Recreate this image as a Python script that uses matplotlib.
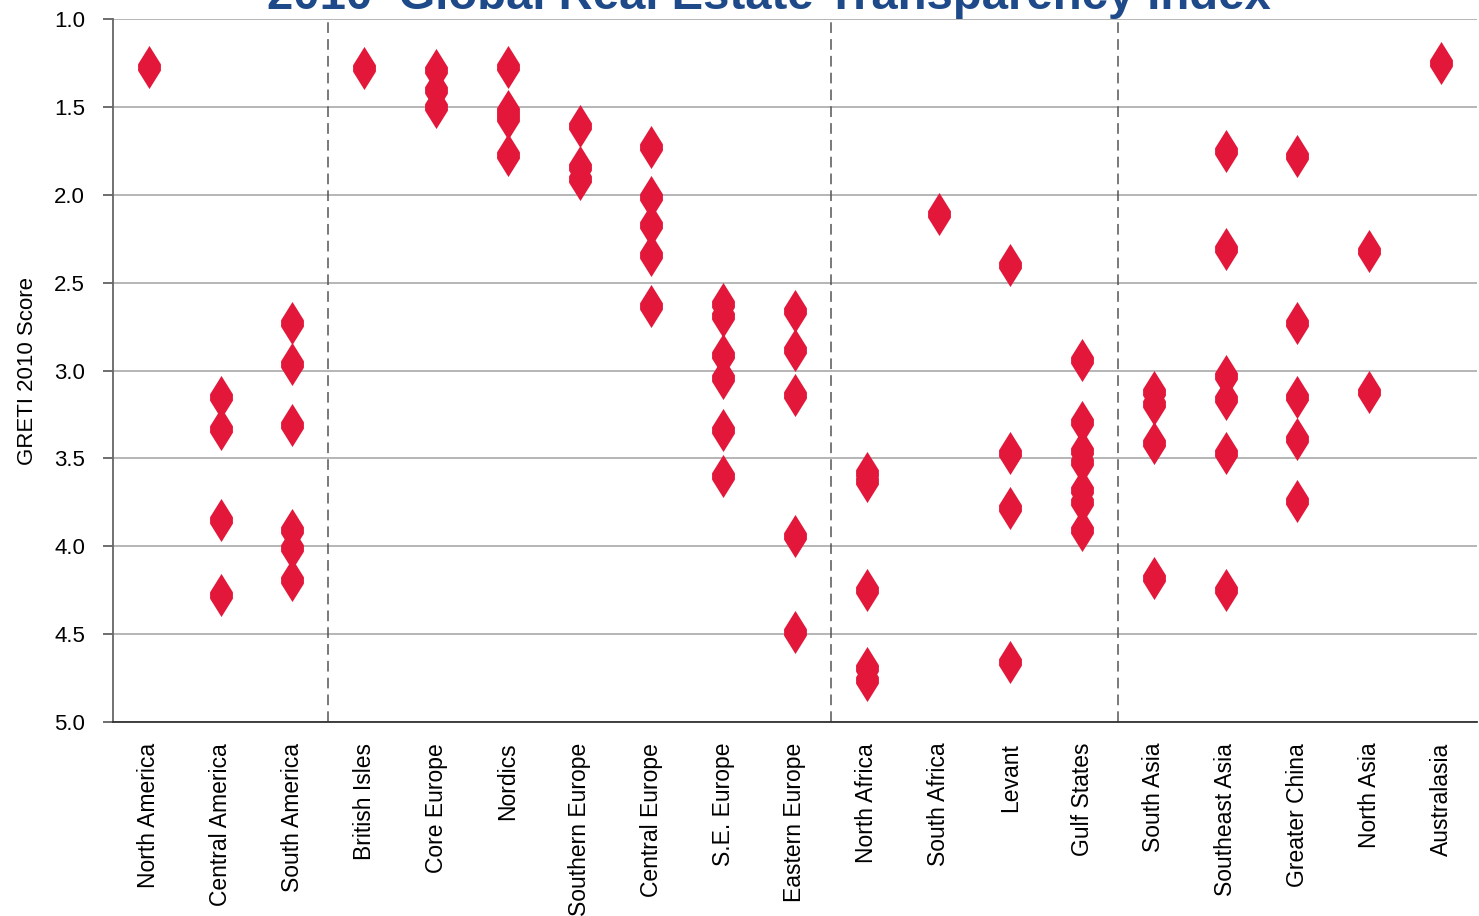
import numpy as np
import matplotlib
matplotlib.use("Agg")
import matplotlib.pyplot as plt
from matplotlib.path import Path

# regiones (en orden del eje x)
regions = [
  "North America", "Central America", "South America",
  "British Isles", "Core Europe", "Nordics", "Southern Europe",
  "Central Europe", "S.E. Europe", "Eastern Europe",
  "North Africa", "South Africa", "Levant", "Gulf States",
  "South Asia", "Southeast Asia", "Greater China", "North Asia", "Australasia",
]

# cantidad de regiones por bloque (Americas, Europa, MENA, Asia Pacifico)
group_sizes = [3, 7, 4, 5]

# puntajes por pais de cada region
scores = [
  [1.27],
  [3.15, 3.33, 3.85, 4.28],
  [2.73, 2.96, 3.31, 3.91, 4.01, 4.19],
  [1.28],
  [1.29, 1.40, 1.50],
  [1.27, 1.52, 1.56, 1.77],
  [1.61, 1.84, 1.91],
  [1.73, 2.01, 2.17, 2.34, 2.63],
  [2.62, 2.69, 2.91, 3.04, 3.34, 3.60],
  [2.66, 2.88, 3.14, 3.94, 4.49],
  [3.58, 3.63, 4.25, 4.69, 4.76],
  [2.11],
  [2.40, 3.47, 3.78, 4.66],
  [2.94, 3.29, 3.46, 3.52, 3.68, 3.75, 3.91],
  [3.12, 3.19, 3.41, 4.18],
  [1.75, 2.31, 3.03, 3.16, 3.47, 4.25],
  [1.78, 2.73, 3.15, 3.39, 3.74],
  [2.32, 3.12],
  [1.25],
]

y_ticks = [1.0, 1.5, 2.0, 2.5, 3.0, 3.5, 4.0, 4.5, 5.0]

red = "#E2173A"
title_blue = "#1F4A8A"
plt.rcParams["font.family"] = ["Liberation Sans", "DejaVu Sans"]

# marcador tipo rombo alargado
marker = Path([(0, 1), (0.53, 0.15), (0.53, -0.15), (0, -1),
               (-0.53, -0.15), (-0.53, 0.15), (0, 1)], closed=True)

fig = plt.figure(figsize=(14.79, 9.16), dpi=100)
ax = fig.add_axes([0.0764, 0.2118, 0.9222, 0.7672])

# puntos
for i, vals in enumerate(scores):
  ax.scatter([i] * len(vals), vals, marker=marker, s=31 ** 2,
             color=red, linewidths=0, zorder=3)

# lineas divisorias entre bloques
for b in np.cumsum(group_sizes)[:-1]:
  ax.axvline(b - 0.5, color="#555555", lw=1.1, dashes=(7, 4), zorder=2)

ax.set_xlim(-0.5, len(regions) - 0.5)
ax.set_ylim(5.0, 1.0)
ax.set_yticks(y_ticks)
ax.set_yticklabels([f"{v:.1f}" for v in y_ticks], fontsize=16)
ax.set_xticks(range(len(regions)))
ax.set_xticklabels(regions, rotation=90, fontsize=16.5, va="top")
ax.tick_params(axis="x", length=0, pad=15)
ax.tick_params(axis="y", length=7, width=1.2, color="#555555", pad=13)

ax.grid(axis="y", color="#B0B0B0", lw=1.3, zorder=1)
ax.set_axisbelow(True)
for s in ["top", "right"]:
  ax.spines[s].set_visible(False)
ax.spines["left"].set_color("#666666")
ax.spines["left"].set_linewidth(1.3)
ax.spines["bottom"].set_color("#333333")
ax.spines["bottom"].set_linewidth(1.3)

ax.set_ylabel("GRETI 2010 Score", fontsize=16, labelpad=12)

# titulo (recortado arriba como en el original)
fig.text(0.52, 0.990, "2010  Global Real Estate Transparency Index",
         ha="center", va="baseline", fontsize=34, fontweight="bold",
         color=title_blue)

fig.savefig("out.png", dpi=100)
